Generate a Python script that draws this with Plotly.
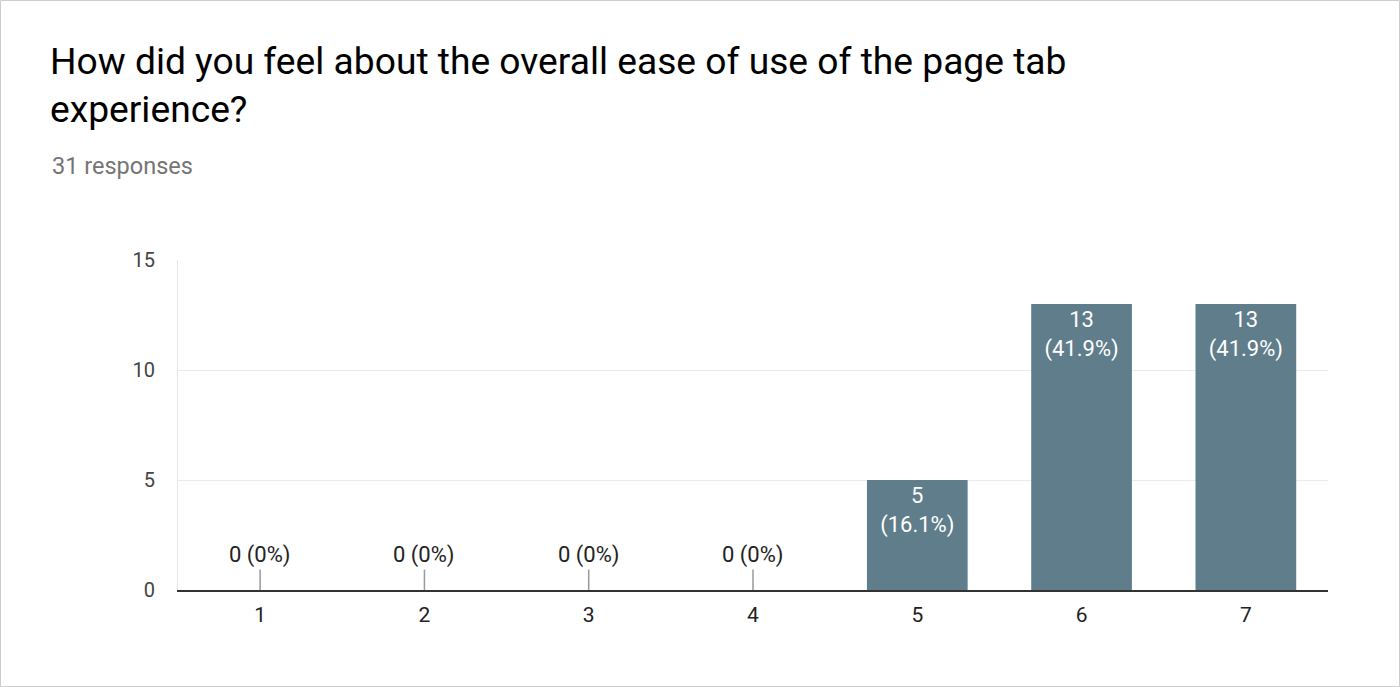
import plotly.graph_objects as go

categories = ["1", "2", "3", "4", "5", "6", "7"]
counts = [0, 0, 0, 0, 5, 13, 13]
total = 31
y_ticks = [0, 5, 10, 15]

title_text = "How did you feel about the overall ease of use of the page tab<br>experience?"
subtitle_text = "31 responses"

W, H = 1400, 687
ML, MR, MT, MB = 178, 72, 260, 97
PW, PH = W - ML - MR, H - MT - MB

def pct(c):
    p = c / total * 100
    s = f"{p:.1f}".rstrip("0").rstrip(".")
    return s + "%"

bar_text = [f"{c}<br>({pct(c)})" if c > 0 else "" for c in counts]

fig = go.Figure()
fig.add_trace(go.Bar(
    x=categories, y=counts,
    marker=dict(color="#607d8b", line=dict(width=0)),
    width=0.613,
    text=bar_text,
    textposition="inside",
    insidetextanchor="end",
    textangle=0,
    textfont=dict(family="Roboto", size=22, color="white"),
    hoverinfo="skip",
))

annotations = []
for i, c in enumerate(counts):
    if c == 0:
        annotations.append(dict(
            x=i, y=c, xref="x", yref="y",
            text=f"{c} ({pct(c)})",
            showarrow=True, arrowhead=0, arrowwidth=1.5, arrowcolor="#999999",
            ax=0, ay=-35,
            font=dict(family="Roboto", size=22, color="#222222"),
        ))

annotations.append(dict(
    x=(50 - ML) / PW, y=(H - MB - 166) / PH, xref="paper", yref="paper",
    xanchor="left", yanchor="middle", showarrow=False,
    text=subtitle_text,
    font=dict(family="Roboto", size=23.5, color="#757575"),
))

fig.update_layout(
    width=W, height=H,
    margin=dict(l=ML, r=MR, t=MT, b=MB),
    paper_bgcolor="white", plot_bgcolor="white",
    showlegend=False,
    title=dict(
        text=title_text,
        xref="container", yref="container",
        x=50 / W, xanchor="left",
        y=1 - 74 / H, yanchor="top",
        font=dict(family="Roboto", size=37.2, color="#000000"),
    ),
    xaxis=dict(
        type="category",
        showgrid=False,
        showline=True, linecolor="#333333", linewidth=1.5,
        ticks="", ticklabelstandoff=5,
        tickfont=dict(family="Roboto", size=21, color="#222222"),
        zeroline=False,
    ),
    yaxis=dict(
        range=[0, 15],
        tickvals=y_ticks,
        showgrid=True, gridcolor="#ebebeb", gridwidth=1,
        zeroline=False, showline=True, linecolor="#e6e6e6", linewidth=1,
        ticks="", ticklabelstandoff=18,
        tickfont=dict(family="Roboto", size=20, color="#444444"),
    ),
    annotations=annotations,
    shapes=[dict(
        type="rect", xref="paper", yref="paper",
        x0=(0.5 - ML) / PW, x1=(W - 0.5 - ML) / PW,
        y0=(H - MB - (H - 0.5)) / PH, y1=(H - MB - 0.5) / PH,
        line=dict(color="#cccccc", width=1), fillcolor="rgba(0,0,0,0)",
        layer="below",
    )],
)

fig.write_html(
    "out.html",
    config={"displayModeBar": False},
    post_script="document.body.style.margin='0';document.body.style.padding='0';",
)
